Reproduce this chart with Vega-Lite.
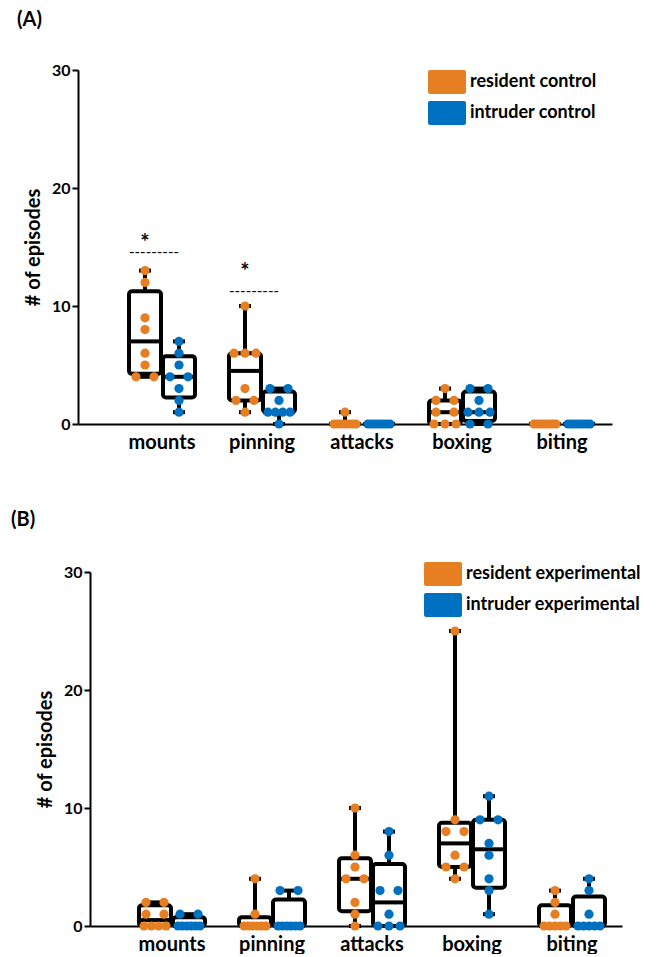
{
  "$schema": "https://vega.github.io/schema/vega-lite/v6.json",
  "padding": {"top": 10, "left": 11, "right": 0, "bottom": 0},
  "config": {
    "view": {"stroke": null},
    "font": "Lato",
    "axis": {"domainColor": "black", "tickColor": "black", "labelColor": "black", "titleColor": "black", "labelFont": "Lato", "titleFont": "Lato"},
    "title": {"font": "Lato", "color": "black", "fontSize": 20, "fontWeight": "bold", "anchor": "start", "frame": "group"}
  },
  "datasets": {
    "boxes": [
      {"condition": "control", "behavior": "mounts", "animal": "resident", "min": 4, "q1": 4.25, "median": 7, "q3": 11.25, "max": 13},
      {"condition": "control", "behavior": "mounts", "animal": "intruder", "min": 1, "q1": 2.25, "median": 4, "q3": 5.75, "max": 7},
      {"condition": "control", "behavior": "pinning", "animal": "resident", "min": 1, "q1": 2, "median": 4.5, "q3": 6, "max": 10},
      {"condition": "control", "behavior": "pinning", "animal": "intruder", "min": 0, "q1": 1, "median": 1, "q3": 2.75, "max": 3},
      {"condition": "control", "behavior": "attacks", "animal": "resident", "min": 0, "q1": 0, "median": 0, "q3": 0, "max": 1},
      {"condition": "control", "behavior": "attacks", "animal": "intruder", "min": 0, "q1": 0, "median": 0, "q3": 0, "max": 0},
      {"condition": "control", "behavior": "boxing", "animal": "resident", "min": 0, "q1": 0, "median": 1, "q3": 2, "max": 3},
      {"condition": "control", "behavior": "boxing", "animal": "intruder", "min": 0, "q1": 0.25, "median": 1, "q3": 2.75, "max": 3},
      {"condition": "control", "behavior": "biting", "animal": "resident", "min": 0, "q1": 0, "median": 0, "q3": 0, "max": 0},
      {"condition": "control", "behavior": "biting", "animal": "intruder", "min": 0, "q1": 0, "median": 0, "q3": 0, "max": 0},
      {"condition": "experimental", "behavior": "mounts", "animal": "resident", "min": 0, "q1": 0, "median": 0.5, "q3": 1.75, "max": 2},
      {"condition": "experimental", "behavior": "mounts", "animal": "intruder", "min": 0, "q1": 0, "median": 0, "q3": 0.75, "max": 1},
      {"condition": "experimental", "behavior": "pinning", "animal": "resident", "min": 0, "q1": 0, "median": 0, "q3": 0.75, "max": 4},
      {"condition": "experimental", "behavior": "pinning", "animal": "intruder", "min": 0, "q1": 0, "median": 0, "q3": 2.25, "max": 3},
      {"condition": "experimental", "behavior": "attacks", "animal": "resident", "min": 0, "q1": 1.25, "median": 4, "q3": 5.75, "max": 10},
      {"condition": "experimental", "behavior": "attacks", "animal": "intruder", "min": 0, "q1": 0, "median": 2, "q3": 5.25, "max": 8},
      {"condition": "experimental", "behavior": "boxing", "animal": "resident", "min": 4, "q1": 5, "median": 7, "q3": 8.75, "max": 25},
      {"condition": "experimental", "behavior": "boxing", "animal": "intruder", "min": 1, "q1": 3.25, "median": 6.5, "q3": 9, "max": 11},
      {"condition": "experimental", "behavior": "biting", "animal": "resident", "min": 0, "q1": 0, "median": 0, "q3": 1.75, "max": 3},
      {"condition": "experimental", "behavior": "biting", "animal": "intruder", "min": 0, "q1": 0, "median": 0, "q3": 2.5, "max": 4}
    ],
    "points": [
      {"condition": "control", "behavior": "mounts", "animal": "resident", "episodes": 13},
      {"condition": "control", "behavior": "mounts", "animal": "resident", "episodes": 12},
      {"condition": "control", "behavior": "mounts", "animal": "resident", "episodes": 9},
      {"condition": "control", "behavior": "mounts", "animal": "resident", "episodes": 8},
      {"condition": "control", "behavior": "mounts", "animal": "resident", "episodes": 6},
      {"condition": "control", "behavior": "mounts", "animal": "resident", "episodes": 5},
      {"condition": "control", "behavior": "mounts", "animal": "resident", "episodes": 4},
      {"condition": "control", "behavior": "mounts", "animal": "resident", "episodes": 4},
      {"condition": "control", "behavior": "mounts", "animal": "intruder", "episodes": 7},
      {"condition": "control", "behavior": "mounts", "animal": "intruder", "episodes": 6},
      {"condition": "control", "behavior": "mounts", "animal": "intruder", "episodes": 5},
      {"condition": "control", "behavior": "mounts", "animal": "intruder", "episodes": 4},
      {"condition": "control", "behavior": "mounts", "animal": "intruder", "episodes": 4},
      {"condition": "control", "behavior": "mounts", "animal": "intruder", "episodes": 3},
      {"condition": "control", "behavior": "mounts", "animal": "intruder", "episodes": 2},
      {"condition": "control", "behavior": "mounts", "animal": "intruder", "episodes": 1},
      {"condition": "control", "behavior": "pinning", "animal": "resident", "episodes": 10},
      {"condition": "control", "behavior": "pinning", "animal": "resident", "episodes": 6},
      {"condition": "control", "behavior": "pinning", "animal": "resident", "episodes": 6},
      {"condition": "control", "behavior": "pinning", "animal": "resident", "episodes": 6},
      {"condition": "control", "behavior": "pinning", "animal": "resident", "episodes": 3},
      {"condition": "control", "behavior": "pinning", "animal": "resident", "episodes": 2},
      {"condition": "control", "behavior": "pinning", "animal": "resident", "episodes": 2},
      {"condition": "control", "behavior": "pinning", "animal": "resident", "episodes": 1},
      {"condition": "control", "behavior": "pinning", "animal": "intruder", "episodes": 3},
      {"condition": "control", "behavior": "pinning", "animal": "intruder", "episodes": 3},
      {"condition": "control", "behavior": "pinning", "animal": "intruder", "episodes": 2},
      {"condition": "control", "behavior": "pinning", "animal": "intruder", "episodes": 1},
      {"condition": "control", "behavior": "pinning", "animal": "intruder", "episodes": 1},
      {"condition": "control", "behavior": "pinning", "animal": "intruder", "episodes": 1},
      {"condition": "control", "behavior": "pinning", "animal": "intruder", "episodes": 1},
      {"condition": "control", "behavior": "pinning", "animal": "intruder", "episodes": 0},
      {"condition": "control", "behavior": "attacks", "animal": "resident", "episodes": 1},
      {"condition": "control", "behavior": "attacks", "animal": "resident", "episodes": 0},
      {"condition": "control", "behavior": "attacks", "animal": "resident", "episodes": 0},
      {"condition": "control", "behavior": "attacks", "animal": "resident", "episodes": 0},
      {"condition": "control", "behavior": "attacks", "animal": "resident", "episodes": 0},
      {"condition": "control", "behavior": "attacks", "animal": "resident", "episodes": 0},
      {"condition": "control", "behavior": "attacks", "animal": "resident", "episodes": 0},
      {"condition": "control", "behavior": "attacks", "animal": "resident", "episodes": 0},
      {"condition": "control", "behavior": "attacks", "animal": "intruder", "episodes": 0},
      {"condition": "control", "behavior": "attacks", "animal": "intruder", "episodes": 0},
      {"condition": "control", "behavior": "attacks", "animal": "intruder", "episodes": 0},
      {"condition": "control", "behavior": "attacks", "animal": "intruder", "episodes": 0},
      {"condition": "control", "behavior": "attacks", "animal": "intruder", "episodes": 0},
      {"condition": "control", "behavior": "attacks", "animal": "intruder", "episodes": 0},
      {"condition": "control", "behavior": "attacks", "animal": "intruder", "episodes": 0},
      {"condition": "control", "behavior": "attacks", "animal": "intruder", "episodes": 0},
      {"condition": "control", "behavior": "boxing", "animal": "resident", "episodes": 3},
      {"condition": "control", "behavior": "boxing", "animal": "resident", "episodes": 2},
      {"condition": "control", "behavior": "boxing", "animal": "resident", "episodes": 2},
      {"condition": "control", "behavior": "boxing", "animal": "resident", "episodes": 1},
      {"condition": "control", "behavior": "boxing", "animal": "resident", "episodes": 1},
      {"condition": "control", "behavior": "boxing", "animal": "resident", "episodes": 0},
      {"condition": "control", "behavior": "boxing", "animal": "resident", "episodes": 0},
      {"condition": "control", "behavior": "boxing", "animal": "resident", "episodes": 0},
      {"condition": "control", "behavior": "boxing", "animal": "intruder", "episodes": 3},
      {"condition": "control", "behavior": "boxing", "animal": "intruder", "episodes": 3},
      {"condition": "control", "behavior": "boxing", "animal": "intruder", "episodes": 2},
      {"condition": "control", "behavior": "boxing", "animal": "intruder", "episodes": 1},
      {"condition": "control", "behavior": "boxing", "animal": "intruder", "episodes": 1},
      {"condition": "control", "behavior": "boxing", "animal": "intruder", "episodes": 1},
      {"condition": "control", "behavior": "boxing", "animal": "intruder", "episodes": 0},
      {"condition": "control", "behavior": "boxing", "animal": "intruder", "episodes": 0},
      {"condition": "control", "behavior": "biting", "animal": "resident", "episodes": 0},
      {"condition": "control", "behavior": "biting", "animal": "resident", "episodes": 0},
      {"condition": "control", "behavior": "biting", "animal": "resident", "episodes": 0},
      {"condition": "control", "behavior": "biting", "animal": "resident", "episodes": 0},
      {"condition": "control", "behavior": "biting", "animal": "resident", "episodes": 0},
      {"condition": "control", "behavior": "biting", "animal": "resident", "episodes": 0},
      {"condition": "control", "behavior": "biting", "animal": "resident", "episodes": 0},
      {"condition": "control", "behavior": "biting", "animal": "resident", "episodes": 0},
      {"condition": "control", "behavior": "biting", "animal": "intruder", "episodes": 0},
      {"condition": "control", "behavior": "biting", "animal": "intruder", "episodes": 0},
      {"condition": "control", "behavior": "biting", "animal": "intruder", "episodes": 0},
      {"condition": "control", "behavior": "biting", "animal": "intruder", "episodes": 0},
      {"condition": "control", "behavior": "biting", "animal": "intruder", "episodes": 0},
      {"condition": "control", "behavior": "biting", "animal": "intruder", "episodes": 0},
      {"condition": "control", "behavior": "biting", "animal": "intruder", "episodes": 0},
      {"condition": "control", "behavior": "biting", "animal": "intruder", "episodes": 0},
      {"condition": "experimental", "behavior": "mounts", "animal": "resident", "episodes": 2},
      {"condition": "experimental", "behavior": "mounts", "animal": "resident", "episodes": 2},
      {"condition": "experimental", "behavior": "mounts", "animal": "resident", "episodes": 1},
      {"condition": "experimental", "behavior": "mounts", "animal": "resident", "episodes": 1},
      {"condition": "experimental", "behavior": "mounts", "animal": "resident", "episodes": 0},
      {"condition": "experimental", "behavior": "mounts", "animal": "resident", "episodes": 0},
      {"condition": "experimental", "behavior": "mounts", "animal": "resident", "episodes": 0},
      {"condition": "experimental", "behavior": "mounts", "animal": "resident", "episodes": 0},
      {"condition": "experimental", "behavior": "mounts", "animal": "intruder", "episodes": 1},
      {"condition": "experimental", "behavior": "mounts", "animal": "intruder", "episodes": 1},
      {"condition": "experimental", "behavior": "mounts", "animal": "intruder", "episodes": 0},
      {"condition": "experimental", "behavior": "mounts", "animal": "intruder", "episodes": 0},
      {"condition": "experimental", "behavior": "mounts", "animal": "intruder", "episodes": 0},
      {"condition": "experimental", "behavior": "mounts", "animal": "intruder", "episodes": 0},
      {"condition": "experimental", "behavior": "mounts", "animal": "intruder", "episodes": 0},
      {"condition": "experimental", "behavior": "mounts", "animal": "intruder", "episodes": 0},
      {"condition": "experimental", "behavior": "pinning", "animal": "resident", "episodes": 4},
      {"condition": "experimental", "behavior": "pinning", "animal": "resident", "episodes": 1},
      {"condition": "experimental", "behavior": "pinning", "animal": "resident", "episodes": 0},
      {"condition": "experimental", "behavior": "pinning", "animal": "resident", "episodes": 0},
      {"condition": "experimental", "behavior": "pinning", "animal": "resident", "episodes": 0},
      {"condition": "experimental", "behavior": "pinning", "animal": "resident", "episodes": 0},
      {"condition": "experimental", "behavior": "pinning", "animal": "resident", "episodes": 0},
      {"condition": "experimental", "behavior": "pinning", "animal": "resident", "episodes": 0},
      {"condition": "experimental", "behavior": "pinning", "animal": "intruder", "episodes": 3},
      {"condition": "experimental", "behavior": "pinning", "animal": "intruder", "episodes": 3},
      {"condition": "experimental", "behavior": "pinning", "animal": "intruder", "episodes": 0},
      {"condition": "experimental", "behavior": "pinning", "animal": "intruder", "episodes": 0},
      {"condition": "experimental", "behavior": "pinning", "animal": "intruder", "episodes": 0},
      {"condition": "experimental", "behavior": "pinning", "animal": "intruder", "episodes": 0},
      {"condition": "experimental", "behavior": "pinning", "animal": "intruder", "episodes": 0},
      {"condition": "experimental", "behavior": "pinning", "animal": "intruder", "episodes": 0},
      {"condition": "experimental", "behavior": "attacks", "animal": "resident", "episodes": 10},
      {"condition": "experimental", "behavior": "attacks", "animal": "resident", "episodes": 6},
      {"condition": "experimental", "behavior": "attacks", "animal": "resident", "episodes": 5},
      {"condition": "experimental", "behavior": "attacks", "animal": "resident", "episodes": 4},
      {"condition": "experimental", "behavior": "attacks", "animal": "resident", "episodes": 4},
      {"condition": "experimental", "behavior": "attacks", "animal": "resident", "episodes": 2},
      {"condition": "experimental", "behavior": "attacks", "animal": "resident", "episodes": 1},
      {"condition": "experimental", "behavior": "attacks", "animal": "resident", "episodes": 0},
      {"condition": "experimental", "behavior": "attacks", "animal": "intruder", "episodes": 8},
      {"condition": "experimental", "behavior": "attacks", "animal": "intruder", "episodes": 6},
      {"condition": "experimental", "behavior": "attacks", "animal": "intruder", "episodes": 3},
      {"condition": "experimental", "behavior": "attacks", "animal": "intruder", "episodes": 3},
      {"condition": "experimental", "behavior": "attacks", "animal": "intruder", "episodes": 1},
      {"condition": "experimental", "behavior": "attacks", "animal": "intruder", "episodes": 0},
      {"condition": "experimental", "behavior": "attacks", "animal": "intruder", "episodes": 0},
      {"condition": "experimental", "behavior": "attacks", "animal": "intruder", "episodes": 0},
      {"condition": "experimental", "behavior": "boxing", "animal": "resident", "episodes": 25},
      {"condition": "experimental", "behavior": "boxing", "animal": "resident", "episodes": 9},
      {"condition": "experimental", "behavior": "boxing", "animal": "resident", "episodes": 8},
      {"condition": "experimental", "behavior": "boxing", "animal": "resident", "episodes": 8},
      {"condition": "experimental", "behavior": "boxing", "animal": "resident", "episodes": 6},
      {"condition": "experimental", "behavior": "boxing", "animal": "resident", "episodes": 5},
      {"condition": "experimental", "behavior": "boxing", "animal": "resident", "episodes": 5},
      {"condition": "experimental", "behavior": "boxing", "animal": "resident", "episodes": 4},
      {"condition": "experimental", "behavior": "boxing", "animal": "intruder", "episodes": 11},
      {"condition": "experimental", "behavior": "boxing", "animal": "intruder", "episodes": 9},
      {"condition": "experimental", "behavior": "boxing", "animal": "intruder", "episodes": 9},
      {"condition": "experimental", "behavior": "boxing", "animal": "intruder", "episodes": 7},
      {"condition": "experimental", "behavior": "boxing", "animal": "intruder", "episodes": 6},
      {"condition": "experimental", "behavior": "boxing", "animal": "intruder", "episodes": 4},
      {"condition": "experimental", "behavior": "boxing", "animal": "intruder", "episodes": 3},
      {"condition": "experimental", "behavior": "boxing", "animal": "intruder", "episodes": 1},
      {"condition": "experimental", "behavior": "biting", "animal": "resident", "episodes": 3},
      {"condition": "experimental", "behavior": "biting", "animal": "resident", "episodes": 2},
      {"condition": "experimental", "behavior": "biting", "animal": "resident", "episodes": 1},
      {"condition": "experimental", "behavior": "biting", "animal": "resident", "episodes": 0},
      {"condition": "experimental", "behavior": "biting", "animal": "resident", "episodes": 0},
      {"condition": "experimental", "behavior": "biting", "animal": "resident", "episodes": 0},
      {"condition": "experimental", "behavior": "biting", "animal": "resident", "episodes": 0},
      {"condition": "experimental", "behavior": "biting", "animal": "resident", "episodes": 0},
      {"condition": "experimental", "behavior": "biting", "animal": "intruder", "episodes": 4},
      {"condition": "experimental", "behavior": "biting", "animal": "intruder", "episodes": 3},
      {"condition": "experimental", "behavior": "biting", "animal": "intruder", "episodes": 1},
      {"condition": "experimental", "behavior": "biting", "animal": "intruder", "episodes": 0},
      {"condition": "experimental", "behavior": "biting", "animal": "intruder", "episodes": 0},
      {"condition": "experimental", "behavior": "biting", "animal": "intruder", "episodes": 0},
      {"condition": "experimental", "behavior": "biting", "animal": "intruder", "episodes": 0},
      {"condition": "experimental", "behavior": "biting", "animal": "intruder", "episodes": 0}
    ],
    "notes": [
      {"condition": "control", "behavior": "mounts", "animal": "resident", "kind": "star", "text": "*", "episodes": 15.3},
      {"condition": "control", "behavior": "mounts", "animal": "resident", "kind": "line", "text": "---------", "episodes": 14.6},
      {"condition": "control", "behavior": "pinning", "animal": "resident", "kind": "star", "text": "*", "episodes": 12.9},
      {"condition": "control", "behavior": "pinning", "animal": "resident", "kind": "line", "text": "---------", "episodes": 11.3}
    ]
  },
  "columns": 1,
  "spacing": 58,
  "resolve": {"scale": {"color": "independent"}, "legend": {"color": "independent"}},
  "concat": [
    {
      "title": {"text": "(A)", "dx": -73, "offset": 32},
      "width": 522,
      "height": 354,
      "encoding": {
        "x": {"field": "behavior", "type": "nominal", "scale": {"domain": ["mounts", "pinning", "attacks", "boxing", "biting"], "range": [-12, 522], "paddingInner": 0, "paddingOuter": 0.17, "align": 1}, "axis": {"title": null, "labelAngle": 0, "ticks": false, "tickSize": 0, "labelPadding": 8, "labelFontSize": 20, "labelFontWeight": "bold", "domainWidth": 2}},
        "xOffset": {"field": "xo", "type": "quantitative", "scale": {"domain": [-50, 50], "range": [0, 100]}}
      },
      "layer": [
        {
          "data": {"name": "boxes"},
          "transform": [{"filter": "datum.condition == 'control'"}, {"calculate": "datum.animal == 'resident' ? -17 : 17", "as": "xo"}],
          "mark": {"type": "rule", "strokeWidth": 4, "color": "black"},
          "encoding": {
            "y": {"field": "min", "type": "quantitative", "scale": {"domain": [0, 30], "nice": false}, "axis": {"title": "# of episodes", "offset": 12, "values": [0, 10, 20, 30], "grid": false, "tickSize": 6, "tickWidth": 2, "domainWidth": 2, "labelPadding": 2, "labelFontSize": 16, "labelFontWeight": "bold", "titleFontSize": 20, "titleFontWeight": "bold", "titlePadding": 8}},
            "y2": {"field": "max"}
          }
        },
        {
          "data": {"name": "boxes"},
          "transform": [{"filter": "datum.condition == 'control'"}, {"calculate": "datum.animal == 'resident' ? -17 : 17", "as": "xo"}],
          "mark": {"type": "tick", "size": 12, "thickness": 4, "color": "black", "opacity": 1},
          "encoding": {"y": {"field": "min", "type": "quantitative"}}
        },
        {
          "data": {"name": "boxes"},
          "transform": [{"filter": "datum.condition == 'control'"}, {"calculate": "datum.animal == 'resident' ? -17 : 17", "as": "xo"}],
          "mark": {"type": "tick", "size": 12, "thickness": 4, "color": "black", "opacity": 1},
          "encoding": {"y": {"field": "max", "type": "quantitative"}}
        },
        {
          "data": {"name": "boxes"},
          "transform": [{"filter": "datum.condition == 'control'"}, {"calculate": "datum.animal == 'resident' ? -17 : 17", "as": "xo"}],
          "mark": {"type": "bar", "width": 32, "fill": "white", "stroke": "black", "strokeWidth": 4, "cornerRadius": 3},
          "encoding": {"y": {"field": "q1", "type": "quantitative"}, "y2": {"field": "q3"}}
        },
        {
          "data": {"name": "boxes"},
          "transform": [{"filter": "datum.condition == 'control'"}, {"calculate": "datum.animal == 'resident' ? -17 : 17", "as": "xo"}],
          "mark": {"type": "tick", "size": 32, "thickness": 4, "color": "black", "opacity": 1},
          "encoding": {"y": {"field": "median", "type": "quantitative"}}
        },
        {
          "data": {"name": "points"},
          "transform": [
            {"filter": "datum.condition == 'control'"},
            {"window": [{"op": "row_number", "as": "r"}, {"op": "count", "as": "n"}], "groupby": ["behavior", "animal", "episodes"], "frame": [null, null]},
            {"calculate": "(datum.animal == 'resident' ? -17 : 17) + (datum.n < 2 ? 0 : (datum.r - (datum.n + 1) / 2) * (datum.n == 2 ? 18 : (datum.n == 3 ? 11 : 22 / (datum.n - 1))))", "as": "xo"}
          ],
          "mark": {"type": "circle", "size": 85, "opacity": 1},
          "encoding": {
            "y": {"field": "episodes", "type": "quantitative"},
            "color": {"field": "animal", "type": "nominal", "scale": {"domain": ["resident", "intruder"], "range": ["#E67E22", "#0070C0"]},
              "legend": {"orient": "none", "legendX": 338, "legendY": -7, "title": null, "labelExpr": "datum.label + ' control'", "symbolType": "M-0.9,-0.63H0.9A0.1,0.1 0 0 1 1,-0.53V0.53A0.1,0.1 0 0 1 0.9,0.63H-0.9A0.1,0.1 0 0 1 -1,0.53V-0.53A0.1,0.1 0 0 1 -0.9,-0.63Z", "symbolSize": 1444, "symbolStrokeWidth": 0, "symbolOpacity": 1, "labelFontSize": 18, "labelFontWeight": "bold", "labelFont": "Lato", "labelColor": "black", "labelOffset": 4, "labelLimit": 300, "rowPadding": -8, "padding": 0}}
          }
        },
        {
          "data": {"name": "notes"},
          "transform": [{"filter": "datum.condition == 'control' && datum.kind == 'star'"}, {"calculate": "datum.animal == 'resident' ? -17 : 17", "as": "xo"}],
          "mark": {"type": "text", "fontSize": 22, "fontWeight": "bold", "font": "Lato", "color": "black", "baseline": "middle"},
          "encoding": {"y": {"field": "episodes", "type": "quantitative"}, "text": {"field": "text"}}
        },
        {
          "data": {"name": "notes"},
          "transform": [{"filter": "datum.condition == 'control' && datum.kind == 'line'"}, {"calculate": "datum.animal == 'resident' ? -17 : 17", "as": "xo"}],
          "mark": {"type": "text", "fontSize": 15, "font": "Lato", "color": "black", "baseline": "middle", "dx": 9},
          "encoding": {"y": {"field": "episodes", "type": "quantitative"}, "text": {"field": "text"}}
        }
      ]
    },
    {
      "title": {"text": "(B)", "dx": -79, "offset": 25},
      "width": 532,
      "height": 354,
      "encoding": {
        "x": {"field": "behavior", "type": "nominal", "scale": {"domain": ["mounts", "pinning", "attacks", "boxing", "biting"], "paddingInner": 0, "paddingOuter": 0.16, "align": 1}, "axis": {"title": null, "labelAngle": 0, "ticks": false, "tickSize": 0, "labelPadding": 8, "labelFontSize": 20, "labelFontWeight": "bold", "domainWidth": 2}},
        "xOffset": {"field": "xo", "type": "quantitative", "scale": {"domain": [-50, 50], "range": [0, 100]}}
      },
      "layer": [
        {
          "data": {"name": "boxes"},
          "transform": [{"filter": "datum.condition == 'experimental'"}, {"calculate": "datum.animal == 'resident' ? -17 : 17", "as": "xo"}],
          "mark": {"type": "rule", "strokeWidth": 4, "color": "black"},
          "encoding": {
            "y": {"field": "min", "type": "quantitative", "scale": {"domain": [0, 30], "nice": false}, "axis": {"title": "# of episodes", "values": [0, 10, 20, 30], "grid": false, "tickSize": 6, "tickWidth": 2, "domainWidth": 2, "labelPadding": 2, "labelFontSize": 16, "labelFontWeight": "bold", "titleFontSize": 20, "titleFontWeight": "bold", "titlePadding": 8}},
            "y2": {"field": "max"}
          }
        },
        {
          "data": {"name": "boxes"},
          "transform": [{"filter": "datum.condition == 'experimental'"}, {"calculate": "datum.animal == 'resident' ? -17 : 17", "as": "xo"}],
          "mark": {"type": "tick", "size": 12, "thickness": 4, "color": "black", "opacity": 1},
          "encoding": {"y": {"field": "min", "type": "quantitative"}}
        },
        {
          "data": {"name": "boxes"},
          "transform": [{"filter": "datum.condition == 'experimental'"}, {"calculate": "datum.animal == 'resident' ? -17 : 17", "as": "xo"}],
          "mark": {"type": "tick", "size": 12, "thickness": 4, "color": "black", "opacity": 1},
          "encoding": {"y": {"field": "max", "type": "quantitative"}}
        },
        {
          "data": {"name": "boxes"},
          "transform": [{"filter": "datum.condition == 'experimental'"}, {"calculate": "datum.animal == 'resident' ? -17 : 17", "as": "xo"}],
          "mark": {"type": "bar", "width": 32, "fill": "white", "stroke": "black", "strokeWidth": 4, "cornerRadius": 3},
          "encoding": {"y": {"field": "q1", "type": "quantitative"}, "y2": {"field": "q3"}}
        },
        {
          "data": {"name": "boxes"},
          "transform": [{"filter": "datum.condition == 'experimental'"}, {"calculate": "datum.animal == 'resident' ? -17 : 17", "as": "xo"}],
          "mark": {"type": "tick", "size": 32, "thickness": 4, "color": "black", "opacity": 1},
          "encoding": {"y": {"field": "median", "type": "quantitative"}}
        },
        {
          "data": {"name": "points"},
          "transform": [
            {"filter": "datum.condition == 'experimental'"},
            {"window": [{"op": "row_number", "as": "r"}, {"op": "count", "as": "n"}], "groupby": ["behavior", "animal", "episodes"], "frame": [null, null]},
            {"calculate": "(datum.animal == 'resident' ? -17 : 17) + (datum.n < 2 ? 0 : (datum.r - (datum.n + 1) / 2) * (datum.n == 2 ? 18 : (datum.n == 3 ? 11 : 22 / (datum.n - 1))))", "as": "xo"}
          ],
          "mark": {"type": "circle", "size": 85, "opacity": 1},
          "encoding": {
            "y": {"field": "episodes", "type": "quantitative"},
            "color": {"field": "animal", "type": "nominal", "scale": {"domain": ["resident", "intruder"], "range": ["#E67E22", "#0070C0"]},
              "legend": {"orient": "none", "legendX": 334, "legendY": -17, "title": null, "labelExpr": "datum.label + ' experimental'", "symbolType": "M-0.9,-0.63H0.9A0.1,0.1 0 0 1 1,-0.53V0.53A0.1,0.1 0 0 1 0.9,0.63H-0.9A0.1,0.1 0 0 1 -1,0.53V-0.53A0.1,0.1 0 0 1 -0.9,-0.63Z", "symbolSize": 1444, "symbolStrokeWidth": 0, "symbolOpacity": 1, "labelFontSize": 18, "labelFontWeight": "bold", "labelFont": "Lato", "labelColor": "black", "labelOffset": 4, "labelLimit": 300, "rowPadding": -8, "padding": 0}}
          }
        }
      ]
    }
  ]
}
